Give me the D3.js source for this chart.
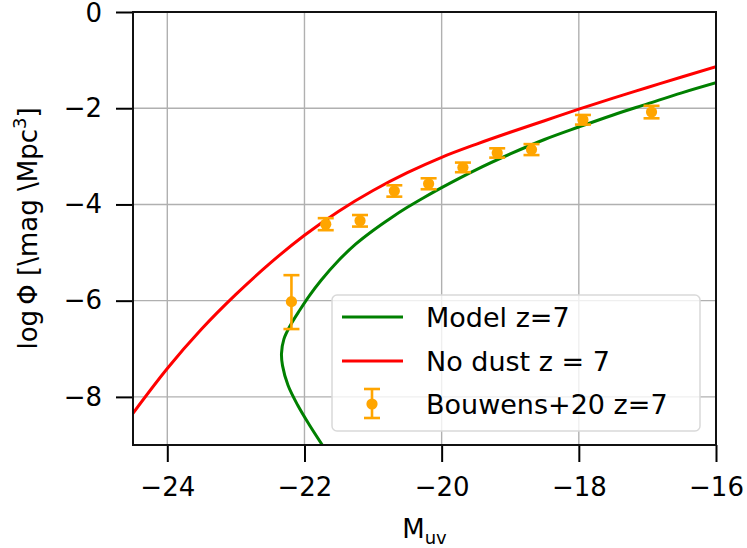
<!DOCTYPE html>
<html>
<head>
<meta charset="utf-8">
<script src="https://cdn.jsdelivr.net/npm/d3@7"></script>
<style>
  html, body { margin: 0; padding: 0; background: #fff; }
  svg { display: block; font-family: "DejaVu Sans", sans-serif; }
</style>
</head>
<body>
<svg id="chart" width="747" height="548"></svg>
<script>
// UV luminosity function at z = 7: model curves and Bouwens+20 measurements

const xTicks = [-24, -22, -20, -18, -16];
const yTicks = [-8, -6, -4, -2, 0];

// "No dust" curve: magnitude and log number density
const noDustM   = [-24.5, -24.0, -23.5, -23.0, -22.5, -22.0, -21.5, -21.0, -20.5, -20.0, -19.5, -19.0, -18.5, -18.0, -17.5, -17.0, -16.5, -16.0];
const noDustPhi = [-8.34, -7.41, -6.59, -5.87, -5.22, -4.64, -4.14, -3.71, -3.34, -3.02, -2.75, -2.50, -2.26, -2.02, -1.79, -1.57, -1.35, -1.135];

// Dust-attenuated model: the bright end bends back, so points run along the curve
const modelM   = [-21.74, -21.93, -22.10, -22.24, -22.32, -22.335, -22.30, -22.20, -22.07, -21.93, -21.76, -21.50, -21.25, -21.0, -20.75, -20.5, -20.25, -20.0, -19.5, -19.0, -18.5, -18.0, -17.5, -17.0, -16.5, -16.0];
const modelPhi = [-9.0, -8.58, -8.17, -7.76, -7.35, -7.10, -6.80, -6.50, -6.20, -5.90, -5.58, -5.16, -4.82, -4.54, -4.29, -4.06, -3.85, -3.65, -3.28, -2.95, -2.65, -2.39, -2.14, -1.91, -1.68, -1.47];

// Bouwens+20 z=7 binned luminosity function
const obsM     = [-22.19, -21.69, -21.19, -20.69, -20.19, -19.69, -19.19, -18.69, -17.94, -16.94];
const obsPhi   = [-6.02, -4.41, -4.34, -3.72, -3.57, -3.23, -2.93, -2.86, -2.24, -2.08];
const obsErrUp = [0.55, 0.125, 0.12, 0.118, 0.114, 0.10, 0.097, 0.114, 0.10, 0.13];
const obsErrLo = [0.57, 0.125, 0.12, 0.118, 0.114, 0.10, 0.097, 0.114, 0.10, 0.13];

const seriesNames = ["Model z=7", "No dust z = 7", "Bouwens+20 z=7"];
const seriesColors = ["green", "red", "orange"];

const svg = d3.select("#chart");
const plot = { left: 133, right: 716, top: 12, bottom: 445 };

const x = d3.scaleLinear().domain([-24.5, -16]).range([plot.left, plot.right]);
const y = d3.scaleLinear().domain([-9, 0]).range([plot.bottom, plot.top]);

svg.append("defs").append("clipPath").attr("id", "plotClip")
  .append("rect")
  .attr("x", plot.left).attr("y", plot.top)
  .attr("width", plot.right - plot.left).attr("height", plot.bottom - plot.top);

// grid
const grid = svg.append("g").attr("stroke", "#b0b0b0").attr("stroke-width", 1.4);
grid.selectAll("line.gx").data(xTicks).join("line")
  .attr("x1", d => x(d)).attr("x2", d => x(d))
  .attr("y1", plot.top).attr("y2", plot.bottom);
grid.selectAll("line.gy").data(yTicks).join("line")
  .attr("x1", plot.left).attr("x2", plot.right)
  .attr("y1", d => y(d)).attr("y2", d => y(d));

// curves
const layer = svg.append("g").attr("clip-path", "url(#plotClip)");

const redLine = d3.line()
  .x((d, i) => x(noDustM[i])).y(d => y(d))
  .curve(d3.curveMonotoneX);
layer.append("path")
  .attr("d", redLine(noDustPhi))
  .attr("fill", "none").attr("stroke", seriesColors[1]).attr("stroke-width", 3);

const greenLine = d3.line()
  .x((d, i) => x(modelM[i])).y(d => y(d))
  .curve(d3.curveCatmullRom.alpha(0.5));
layer.append("path")
  .attr("d", greenLine(modelPhi))
  .attr("fill", "none").attr("stroke", seriesColors[0]).attr("stroke-width", 3);

// error bars
const eb = svg.append("g").attr("stroke", seriesColors[2]).attr("fill", seriesColors[2]);
obsM.forEach((m, i) => {
  const cx = x(m);
  const yTop = y(obsPhi[i] + obsErrUp[i]);
  const yBot = y(obsPhi[i] - obsErrLo[i]);
  eb.append("line").attr("x1", cx).attr("x2", cx).attr("y1", yTop).attr("y2", yBot).attr("stroke-width", 2.6);
  eb.append("line").attr("x1", cx - 8).attr("x2", cx + 8).attr("y1", yTop).attr("y2", yTop).attr("stroke-width", 2.6);
  eb.append("line").attr("x1", cx - 8).attr("x2", cx + 8).attr("y1", yBot).attr("y2", yBot).attr("stroke-width", 2.6);
  eb.append("circle").attr("cx", cx).attr("cy", y(obsPhi[i])).attr("r", 5.6).attr("stroke", "none");
});

// axes
const fmt = d3.format("d");
const xAxis = svg.append("g")
  .attr("transform", `translate(0,${plot.bottom})`)
  .call(d3.axisBottom(x).tickValues(xTicks).tickFormat(fmt).tickSize(17).tickPadding(16));
const yAxis = svg.append("g")
  .attr("transform", `translate(${plot.left},0)`)
  .call(d3.axisLeft(y).tickValues(yTicks).tickFormat(fmt).tickSize(17).tickPadding(14));
[xAxis, yAxis].forEach(a => {
  a.select(".domain").remove();
  a.selectAll(".tick line").attr("stroke", "#000").attr("stroke-width", 2);
  a.selectAll(".tick text")
    .attr("fill", "#000")
    .style("font-family", "'DejaVu Sans', sans-serif")
    .style("font-size", "26px");
});
// keep the top "0" label inside the canvas
yAxis.selectAll(".tick text").filter(d => d === 0).attr("dy", "0.38em");

// spines
svg.append("rect")
  .attr("x", plot.left).attr("y", plot.top)
  .attr("width", plot.right - plot.left).attr("height", plot.bottom - plot.top)
  .attr("fill", "none").attr("stroke", "#111").attr("stroke-width", 2);

// axis labels
const xl = svg.append("text")
  .attr("x", (plot.left + plot.right) / 2).attr("y", 538)
  .attr("text-anchor", "middle").style("font-size", "26px").attr("fill", "#000");
xl.append("tspan").text("M");
xl.append("tspan").text("uv").attr("dy", 6).style("font-size", "18px");

const yl = svg.append("text")
  .attr("transform", `translate(37,${(plot.top + plot.bottom) / 2}) rotate(-90)`)
  .attr("text-anchor", "middle").style("font-size", "26px").attr("fill", "#000");
yl.append("tspan").text("log\u2009Φ [\\mag \\Mpc");
yl.append("tspan").text("3").attr("dy", -11).style("font-size", "18px");
yl.append("tspan").text("]").attr("dy", 11);

// legend
const lg = svg.append("g");
lg.append("rect")
  .attr("x", 332).attr("y", 295).attr("width", 368).attr("height", 136)
  .attr("rx", 5).attr("ry", 5)
  .attr("fill", "#fff").attr("fill-opacity", 0.8)
  .attr("stroke", "#d9d9d9").attr("stroke-width", 1.5);

const rowY = [317, 361, 404];
[0, 1].forEach(k => {
  lg.append("line")
    .attr("x1", 342).attr("x2", 403).attr("y1", rowY[k]).attr("y2", rowY[k])
    .attr("stroke", seriesColors[k]).attr("stroke-width", 3);
});
const lx = 372;
lg.append("line").attr("x1", lx).attr("x2", lx).attr("y1", 389).attr("y2", 418)
  .attr("stroke", seriesColors[2]).attr("stroke-width", 2.6);
[389, 418].forEach(cy => lg.append("line")
  .attr("x1", lx - 8).attr("x2", lx + 8).attr("y1", cy).attr("y2", cy)
  .attr("stroke", seriesColors[2]).attr("stroke-width", 2.6));
lg.append("circle").attr("cx", lx).attr("cy", rowY[2]).attr("r", 5.6).attr("fill", seriesColors[2]);

seriesNames.forEach((name, k) => {
  lg.append("text")
    .attr("x", 426).attr("y", rowY[k] + 10)
    .style("font-size", "27px").attr("fill", "#000")
    .text(name);
});
</script>
</body>
</html>
